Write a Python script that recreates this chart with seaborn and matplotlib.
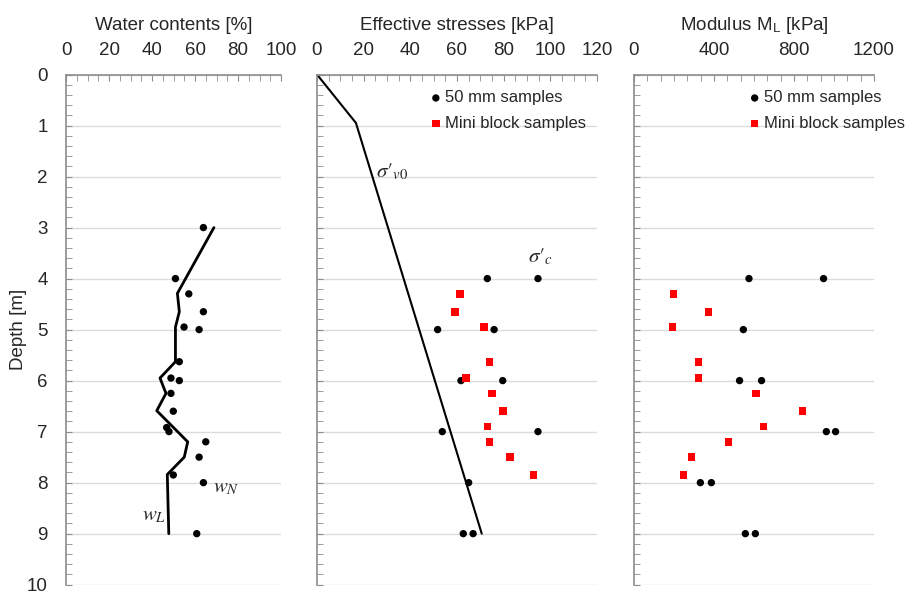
import numpy as np
import pandas as pd
import matplotlib
matplotlib.use('Agg')
import matplotlib.pyplot as plt
import seaborn as sns
from matplotlib.ticker import MultipleLocator

# water contents
wn_depth = [3.0, 4.0, 4.3, 4.65, 4.95, 5.0, 5.63, 5.95, 6.0, 6.25, 6.6, 6.92, 7.0, 7.2, 7.5, 7.85, 8.0, 9.0]
wn_value = [63.9, 50.9, 57.1, 63.9, 54.9, 61.9, 52.7, 48.8, 52.7, 48.8, 49.9, 46.8, 47.9, 65.0, 61.9, 49.9, 63.9, 60.8]
wl_depth = [3.0, 4.29, 4.65, 4.95, 5.63, 5.95, 6.25, 6.59, 7.2, 7.5, 7.84, 9.0]
wl_value = [68.8, 51.8, 52.7, 50.9, 50.9, 43.7, 46.5, 42.2, 56.6, 55.0, 47.1, 47.8]

# effective stresses
sv0_depth = [0.0, 0.95, 9.0]
sv0_value = [0.0, 16.7, 70.6]
tube_depth = [4.0, 4.0, 5.0, 5.0, 6.0, 6.0, 7.0, 7.0, 8.0, 9.0, 9.0]
tube_sc = [73.0, 94.7, 51.7, 75.9, 61.7, 79.6, 53.7, 94.7, 65.0, 62.7, 66.9]
block_depth = [4.3, 4.65, 4.95, 5.63, 5.95, 6.25, 6.6, 6.9, 7.2, 7.5, 7.85]
block_sc = [61.3, 59.1, 71.7, 73.9, 63.9, 74.9, 79.6, 73.0, 73.9, 82.7, 92.7]

# modulus
tube_ml_depth = [4.0, 4.0, 5.0, 6.0, 6.0, 7.0, 7.0, 8.0, 8.0, 9.0, 9.0]
tube_ml = [575, 948, 547, 528, 638, 962, 1008, 332, 387, 557, 607]
block_ml = [198, 372, 193, 323, 323, 610, 842, 647, 473, 288, 248]

sns.set_style('white')
plt.rcParams['font.family'] = ['Liberation Sans', 'DejaVu Sans']
plt.rcParams['mathtext.fontset'] = 'stix'

fig = plt.figure(figsize=(9.08, 5.96), dpi=100)
top, height = 0.875, 0.856
ax1 = fig.add_axes([0.0727, top - height, 0.2368, height])
ax2 = fig.add_axes([0.3491, top - height, 0.3084, height])
ax3 = fig.add_axes([0.6982, top - height, 0.2643, height])

gray = '#8c8c8c'
txt = '#262626'
fs = 13.5


def style(ax, xmax, major, minor, title, ylabels):
    ax.set_xlim(0, xmax)
    ax.set_ylim(10, 0)
    ax.xaxis.tick_top()
    ax.xaxis.set_label_position('top')
    ax.xaxis.set_major_locator(MultipleLocator(major))
    ax.xaxis.set_minor_locator(MultipleLocator(minor))
    ax.yaxis.set_major_locator(MultipleLocator(1))
    ax.yaxis.set_minor_locator(MultipleLocator(0.2))
    for s in ['right', 'bottom']:
        ax.spines[s].set_visible(False)
    for s in ['left', 'top']:
        ax.spines[s].set_color(gray)
        ax.spines[s].set_linewidth(1.2)
    ax.tick_params(axis='both', which='both', direction='in', length=4, color=gray,
                   labelsize=fs, labelcolor=txt)
    ax.tick_params(axis='x', which='both', top=True, bottom=False, pad=11)
    ax.tick_params(axis='y', which='both', left=True, right=False, pad=13,
                   labelleft=ylabels)
    ax.grid(axis='y', which='major', color='#dcdcdc', linewidth=1)
    ax.set_xlabel(title, fontsize=fs, color=txt, labelpad=9)
    ax.set_ylabel('')


# panel 1
sns.scatterplot(x=wn_value, y=wn_depth, ax=ax1, color='black', s=28, edgecolor='none', zorder=3)
sns.lineplot(x=wl_value, y=wl_depth, ax=ax1, color='black', linewidth=2, sort=False, estimator=None)
ax1.text(68.5, 8.1, r'$w_N$', fontsize=15, va='center', ha='left')
ax1.text(35.5, 8.65, r'$w_L$', fontsize=15, va='center', ha='left')
style(ax1, 100, 20, 5, 'Water contents [%]', True)
ax1.set_ylabel('Depth [m]', fontsize=fs, color=txt, labelpad=0)

# panel 2
sns.lineplot(x=sv0_value, y=sv0_depth, ax=ax2, color='black', linewidth=1.5, sort=False, estimator=None)
sns.scatterplot(x=tube_sc, y=tube_depth, ax=ax2, color='black', marker='o', s=28,
                edgecolor='none', label='50 mm samples', zorder=3)
sns.scatterplot(x=block_sc, y=block_depth, ax=ax2, color='red', marker='s', s=30,
                edgecolor='none', label='Mini block samples', zorder=3)
ax2.text(25.5, 1.9, '$\\sigma\u2032_{v0}$', fontsize=15, va='center', ha='left')
ax2.text(90.5, 3.58, '$\\sigma\u2032_{c}$', fontsize=15, va='center', ha='left')
style(ax2, 120, 20, 5, 'Effective stresses [kPa]', False)
ax2.legend(loc='upper left', bbox_to_anchor=(0.368, 0.982), frameon=False, fontsize=12,
           handletextpad=0.0, labelspacing=0.62, borderaxespad=0, handlelength=1.1)

# panel 3
sns.scatterplot(x=tube_ml, y=tube_ml_depth, ax=ax3, color='black', marker='o', s=28,
                edgecolor='none', label='50 mm samples', zorder=3)
sns.scatterplot(x=block_ml, y=block_depth, ax=ax3, color='red', marker='s', s=30,
                edgecolor='none', label='Mini block samples', zorder=3)
style(ax3, 1200, 400, 1200 / 18, 'Modulus M$_\\mathregular{L}$ [kPa]', False)
ax3.legend(loc='upper left', bbox_to_anchor=(0.437, 0.982), frameon=False, fontsize=12,
           handletextpad=0.0, labelspacing=0.62, borderaxespad=0, handlelength=1.1)

fig.savefig('out.png', dpi=100)
